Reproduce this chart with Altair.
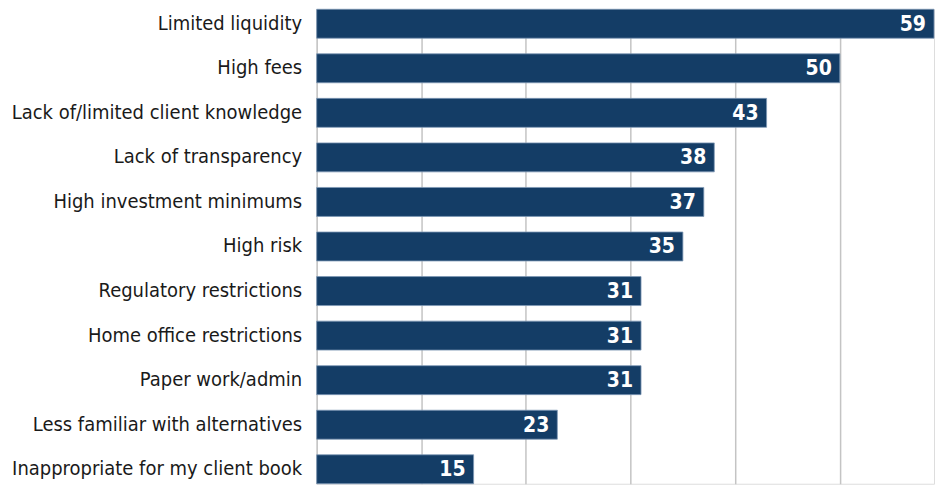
import altair as alt
import pandas as pd

categories = [
    "Limited liquidity",
    "High fees",
    "Lack of/limited client knowledge",
    "Lack of transparency",
    "High investment minimums",
    "High risk",
    "Regulatory restrictions",
    "Home office restrictions",
    "Paper work/admin",
    "Less familiar with alternatives",
    "Inappropriate for my client book",
]
values = [59, 50, 43, 38, 37, 35, 31, 31, 31, 23, 15]

df = pd.DataFrame({"reason": categories, "value": values})

FONT = "'DejaVu Sans Condensed', 'Liberation Sans Narrow', sans-serif"

y_enc = alt.Y(
    "reason:N",
    sort=categories,
    scale=alt.Scale(paddingInner=0.35, paddingOuter=0.0),
    axis=alt.Axis(
        title=None,
        ticks=False,
        domain=False,
        labelFont=FONT,
        labelFontSize=20,
        labelColor="#1a1a1a",
        labelPadding=15,
        minExtent=309,
        maxExtent=309,
        labelLimit=400,
    ),
)
x_enc = alt.X(
    "value:Q",
    scale=alt.Scale(domain=[0, 59], nice=False, zero=True),
    axis=alt.Axis(
        title=None,
        values=[0, 10, 20, 30, 40, 50],
        labels=False,
        ticks=False,
        domain=False,
        grid=True,
        gridColor="#c4c4c4",
        gridWidth=1.5,
    ),
)

bars = alt.Chart(df).mark_bar(
    color="#143d66", stroke="#7d98b5", strokeWidth=0.8
).encode(x=x_enc, y=y_enc)

labels = alt.Chart(df).mark_text(
    align="right", baseline="middle", dx=-8, dy=1,
    color="white", font=FONT, fontSize=21, fontWeight="bold",
).encode(x="value:Q", y=alt.Y("reason:N", sort=categories), text="value:Q")

chart = (
    alt.layer(bars, labels)
    .properties(width=618, height=475, padding={"left": 0, "top": 0, "right": 0, "bottom": 0})
    .configure_view(stroke=None)
    .configure(background="white")
)

chart.save("out.html", embed_options={"renderer": "svg", "actions": False})
